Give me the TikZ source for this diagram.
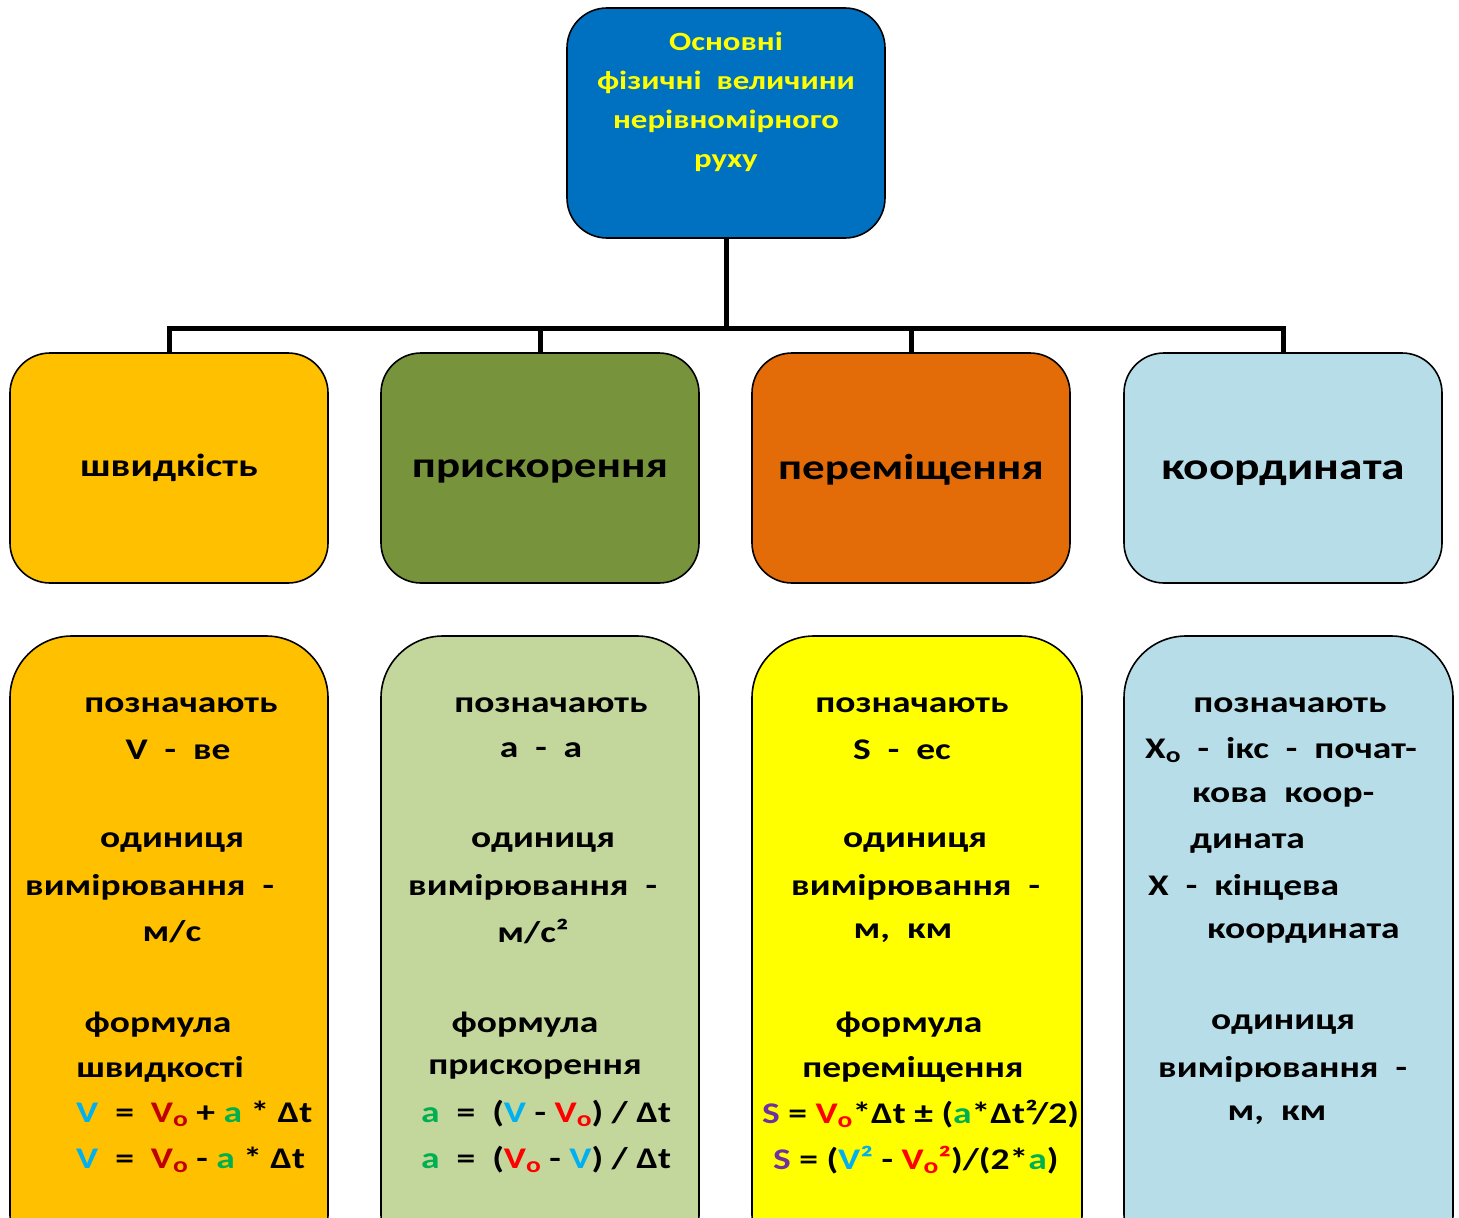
\documentclass[tikz,border=0pt]{standalone}
\usepackage{fontspec}
\setmainfont[FakeStretch=1.25]{Carlito}
\definecolor{topblue}{HTML}{0070C0}
\definecolor{txtyellow}{HTML}{FFFF00}
\definecolor{cOrange}{HTML}{FFC000}
\definecolor{cOlive}{HTML}{77933C}
\definecolor{cRust}{HTML}{E36C09}
\definecolor{cIce}{HTML}{B7DEE8}
\definecolor{cSage}{HTML}{C3D69B}
\definecolor{cYel}{HTML}{FFFF00}
\definecolor{cSky}{HTML}{B7DDE8}
\definecolor{fV}{HTML}{00B0F0}
\definecolor{fVoD}{HTML}{C00000}
\definecolor{fVo}{HTML}{FF0000}
\definecolor{fA}{HTML}{00B050}
\definecolor{fS}{HTML}{7030A0}
\newcommand{\osub}{\raisebox{-0.12em}{\fontsize{22}{22}\selectfont o}}
\newcommand{\cV}{\textcolor{fV}{V}}
\newcommand{\cA}{\textcolor{fA}{a}}
\newcommand{\cS}{\textcolor{fS}{S}}
\newcommand{\cVoD}{\textcolor{fVoD}{V\osub}}
\newcommand{\cVo}{\textcolor{fVo}{V\osub}}
\begin{document}
\begin{tikzpicture}[x=1pt,y=-1pt,
  box/.style={draw=black,line width=1.6pt,rounded corners=40pt,minimum width=318pt,minimum height=230pt,inner sep=0pt},
  tallbox/.style={draw=black,line width=1.6pt,rounded corners=62pt,minimum height=640pt,inner sep=0pt},
  bus/.style={line width=5pt,line join=miter},
  ln/.style={font=\fontsize{30}{36}\bfseries\selectfont,inner sep=0pt,anchor=center},
  lnl/.style={font=\fontsize{30}{36}\bfseries\selectfont,inner sep=0pt,anchor=west},
  hd/.style={inner sep=0pt}]
\useasboundingbox (0,0) rectangle (1459,1218);
% top box
\node[box,fill=topblue,minimum width=318pt,minimum height=230pt] (top) at (726,123) {};
\node[hd,text=txtyellow,align=center,font=\fontsize{26.3}{39}\bfseries\selectfont] (toptxt) at (726,102)
  {Основні\\фізичні\ \ величини\\нерівномірного\\руху};
% row 1
\node[box,fill=cOrange] (b1) at (169,468) {};
\node[box,fill=cOlive] (b2) at (540,468) {};
\node[box,fill=cRust] (b3) at (911,468) {};
\node[box,fill=cIce] (b4) at (1283,468) {};
\node[hd,font=\fontsize{32}{36}\bfseries\selectfont] (l1) at (169,468) {швидкість};
\node[hd,font=\fontsize{36}{40}\bfseries\selectfont] (l2) at (540,471) {прискорення};
\node[hd,font=\fontsize{36}{40}\bfseries\selectfont] (l3) at (911,470) {переміщення};
\node[hd,font=\fontsize{38}{40}\bfseries\selectfont] (l4) at (1283,473) {координата};
% connectors
\coordinate (hub) at (726,328);
\draw[bus] (top.south) -- (hub);
\draw[bus] (b1.north) |- (hub) -| (b4.north);
\draw[bus] (b2.north) -- (b2.north |- hub);
\draw[bus] (b3.north) -- (b3.north |- hub);
% row 2
\node[tallbox,fill=cOrange,minimum width=318pt] (d1) at (169,956) {};
\node[tallbox,fill=cSage,minimum width=318pt] (d2) at (540,956) {};
\node[tallbox,fill=cYel,minimum width=330pt] (d3) at (917,956) {};
\node[tallbox,fill=cSky,minimum width=329pt] (d4) at (1288.5,956) {};
% box 1 text
\node[ln] (a1) at (181,705) {позначають};
\node[ln] (a2) at (178,750) {V\ \ -\ \ ве};
\node[ln] (a3) at (172,843) {одиниця};
\node[lnl] (a4) at (25,887) {вимірювання\ \ -};
\node[ln] (a5) at (172,932) {м/с};
\node[ln] (a6) at (158,1025) {формула};
\node[ln] (a7) at (160,1069) {швидкості};
\node[lnl] (a8) at (76,1114) {\cV\ \ =\ \ \cVoD\ + \cA\ * Δt};
\node[lnl] (a9) at (76,1160) {\cV\ \ =\ \ \cVoD\ - \cA\ * Δt};
% box 2 text
\node[ln] (c1) at (551,705) {позначають};
\node[ln] (c2) at (541,750) {a\ \ -\ \ a};
\node[ln] (c3) at (543,843) {одиниця};
\node[lnl] (c4) at (408,887) {вимірювання\ \ -};
\node[ln] (c5) at (533,932) {м/с²};
\node[ln] (c6) at (525,1025) {формула};
\node[ln] (c7) at (535,1069) {прискорення};
\node[lnl] (c8) at (421,1114) {\cA\ \ =\ \ (\cV\ - \cVo) / Δt};
\node[lnl] (c9) at (421,1160) {\cA\ \ =\ \ (\cVo\ - \cV) / Δt};
% box 3 text
\node[ln] (e1) at (912,705) {позначають};
\node[ln] (e2) at (902,750) {S\ \ -\ \ ес};
\node[ln] (e3) at (915,843) {одиниця};
\node[lnl] (e4) at (791,887) {вимірювання\ \ -};
\node[ln] (e5) at (903,933) {м,\ \ км};
\node[ln] (e6) at (909,1025) {формула};
\node[ln] (e7) at (913,1069) {переміщення};
\node[lnl] (e8) at (762,1114) {\cS\ = \cVo*Δt ± (\cA*Δt²/2)};
\node[lnl] (e9) at (773,1160) {\cS\ = (\textcolor{fV}{V²} - \textcolor{fVo}{V\osub²})/(2*\cA)};
% box 4 text
\node[ln] (g1) at (1290,705) {позначають};
\node[lnl] (g2) at (1145,750) {X\osub\ \ -\ \ ікс\ \ -\ \ почат-};
\node[lnl] (g3) at (1192,797) {кова\ \ коор-};
\node[lnl] (g4) at (1190,843) {дината};
\node[lnl] (g5) at (1148,887) {X\ \ -\ \ кінцева};
\node[lnl] (g6) at (1207,933) {координата};
\node[ln] (g7) at (1283,1025) {одиниця};
\node[lnl] (g8) at (1158,1069) {вимірювання\ \ -};
\node[ln] (g9) at (1277,1115) {м,\ \ км};
\end{tikzpicture}
\end{document}
